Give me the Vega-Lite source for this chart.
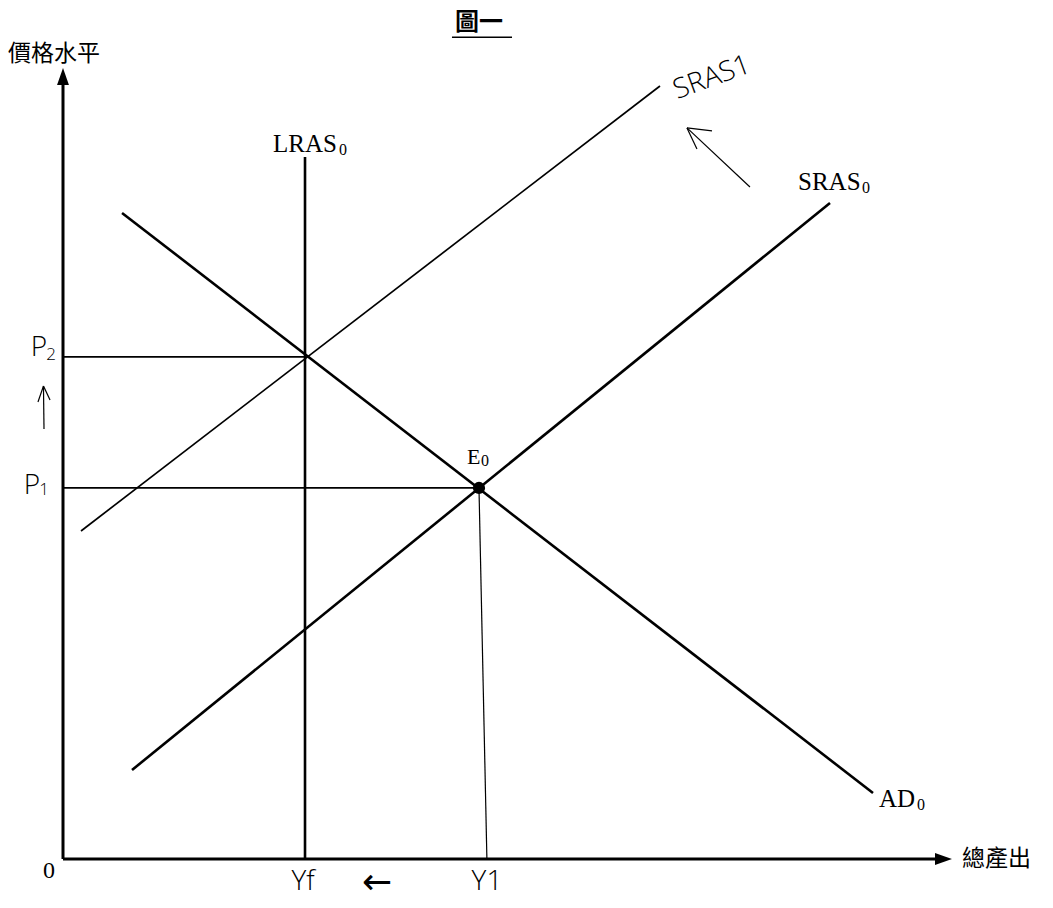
{
  "$schema": "https://vega.github.io/schema/vega-lite/v6.json",
  "width": 1053,
  "height": 908,
  "autosize": {"type": "fit", "contains": "padding"},
  "padding": 0,
  "background": "white",
  "config": {"view": {"stroke": null}},
  "datasets": {
    "segments": [
      {"seg": "price axis", "x": 0, "y": 0, "x2": 0, "y2": 85.5},
      {"seg": "output axis", "x": 0, "y": 0, "x2": 97, "y2": 0},
      {"seg": "LRAS0", "x": 26.89, "y": 0, "x2": 26.89, "y2": 77.31},
      {"seg": "AD0", "x": 6.56, "y": 71.15, "x2": 90.0, "y2": 7.27},
      {"seg": "SRAS0", "x": 7.67, "y": 9.8, "x2": 85.22, "y2": 72.25},
      {"seg": "SRAS1", "x": 2.0, "y": 36.12, "x2": 66.33, "y2": 85.13},
      {"seg": "P2 guide", "x": 0, "y": 55.29, "x2": 26.89, "y2": 55.29},
      {"seg": "P1 guide", "x": 0, "y": 40.86, "x2": 46.22, "y2": 40.86},
      {"seg": "Y1 guide", "x": 46.22, "y": 40.86, "x2": 47.1, "y2": 0},
      {"seg": "shift arrow", "x": 76.33, "y": 74.0, "x2": 69.33, "y2": 80.51},
      {"seg": "shift arrow", "x": 69.33, "y": 80.51, "x2": 72.11, "y2": 80.18},
      {"seg": "shift arrow", "x": 69.33, "y": 80.51, "x2": 70.44, "y2": 78.19},
      {"seg": "price arrow", "x": -2.11, "y": 47.36, "x2": -2.17, "y2": 52.09},
      {"seg": "price arrow", "x": -2.17, "y": 52.09, "x2": -2.78, "y2": 50.33},
      {"seg": "price arrow", "x": -2.17, "y": 52.09, "x2": -1.44, "y2": 50.55},
      {"seg": "title underline", "x": 43.22, "y": 90.5, "x2": 49.89, "y2": 90.5}
    ],
    "points": [
      {"name": "E0", "x": 46.22, "y": 40.86},
      {"name": "price tip", "x": 0, "y": 86.18},
      {"name": "output tip", "x": 97.83, "y": 0}
    ],
    "labels": [
      {"role": "curve", "text": "LRAS", "x": 23.33, "y": 77.86},
      {"role": "curve", "text": "SRAS", "x": 81.67, "y": 73.68},
      {"role": "curve", "text": "AD", "x": 90.67, "y": 5.73},
      {"role": "point", "text": "E", "x": 44.89, "y": 43.5},
      {"role": "sub", "text": "0", "x": 30.67, "y": 77.53},
      {"role": "sub", "text": "0", "x": 88.78, "y": 73.35},
      {"role": "sub", "text": "0", "x": 94.89, "y": 5.4},
      {"role": "sub", "text": "0", "x": 46.44, "y": 43.28},
      {"role": "origin", "text": "0", "x": -1.56, "y": -2.09},
      {"role": "cjk", "text": "價格水平", "x": -1.0, "y": 88.66},
      {"role": "cjk-right", "text": "總產出", "x": 99.89, "y": 0},
      {"role": "title", "text": "圖一", "x": 46.22, "y": 92.1},
      {"role": "hand", "text": "Yf", "x": 26.67, "y": -2.53},
      {"role": "hand-arrow", "text": "←", "x": 34.9, "y": -2.6},
      {"role": "hand", "text": "Y1", "x": 47.11, "y": -2.53},
      {"role": "hand", "text": "P", "x": -2.67, "y": 56.28},
      {"role": "hand", "text": "P", "x": -3.44, "y": 41.08},
      {"role": "hand-sub", "text": "2", "x": -1.33, "y": 55.51},
      {"role": "hand-sub", "text": "1", "x": -2.11, "y": 40.64},
      {"role": "hand-rot", "text": "SRAS1", "x": 72.11, "y": 86.01}
    ]
  },
  "encoding": {
    "x": {"field": "x", "type": "quantitative", "scale": {"domain": [-7, 110], "nice": false, "zero": false}, "axis": null},
    "y": {"field": "y", "type": "quantitative", "scale": {"domain": [-5.4, 94.6], "nice": false, "zero": false}, "axis": null}
  },
  "layer": [
    {
      "data": {"name": "segments"},
      "transform": [{"filter": {"field": "seg", "oneOf": ["price axis", "output axis"]}}],
      "mark": {"type": "rule", "strokeWidth": 3, "color": "black"},
      "encoding": {"x2": {"field": "x2"}, "y2": {"field": "y2"}}
    },
    {
      "data": {"name": "segments"},
      "transform": [{"filter": {"field": "seg", "oneOf": ["LRAS0", "AD0", "SRAS0"]}}],
      "mark": {"type": "rule", "strokeWidth": 2.6, "color": "black"},
      "encoding": {"x2": {"field": "x2"}, "y2": {"field": "y2"}}
    },
    {
      "data": {"name": "segments"},
      "transform": [{"filter": {"field": "seg", "oneOf": ["SRAS1", "P2 guide", "P1 guide", "title underline"]}}],
      "mark": {"type": "rule", "strokeWidth": 1.7, "color": "black"},
      "encoding": {"x2": {"field": "x2"}, "y2": {"field": "y2"}}
    },
    {
      "data": {"name": "segments"},
      "transform": [{"filter": {"field": "seg", "oneOf": ["Y1 guide", "shift arrow", "price arrow"]}}],
      "mark": {"type": "rule", "strokeWidth": 1.2, "color": "black"},
      "encoding": {"x2": {"field": "x2"}, "y2": {"field": "y2"}}
    },
    {
      "data": {"name": "points"},
      "transform": [{"filter": {"field": "name", "equal": "E0"}}],
      "mark": {"type": "point", "shape": "circle", "filled": true, "size": 150, "color": "black", "opacity": 1}
    },
    {
      "data": {"name": "points"},
      "transform": [{"filter": {"field": "name", "equal": "price tip"}}],
      "mark": {"type": "point", "shape": "M0,-1L0.7,1L-0.7,1Z", "filled": true, "size": 289, "color": "black", "opacity": 1}
    },
    {
      "data": {"name": "points"},
      "transform": [{"filter": {"field": "name", "equal": "output tip"}}],
      "mark": {"type": "point", "shape": "M1,0L-1,-0.7L-1,0.7Z", "filled": true, "size": 289, "color": "black", "opacity": 1}
    },
    {
      "data": {"name": "labels"},
      "transform": [{"filter": {"field": "role", "equal": "curve"}}],
      "mark": {"type": "text", "font": "Liberation Serif", "fontSize": 25, "align": "left", "baseline": "alphabetic", "color": "black"},
      "encoding": {"text": {"field": "text"}}
    },
    {
      "data": {"name": "labels"},
      "transform": [{"filter": {"field": "role", "equal": "point"}}],
      "mark": {"type": "text", "font": "Liberation Serif", "fontSize": 22, "align": "left", "baseline": "alphabetic", "color": "black"},
      "encoding": {"text": {"field": "text"}}
    },
    {
      "data": {"name": "labels"},
      "transform": [{"filter": {"field": "role", "equal": "sub"}}],
      "mark": {"type": "text", "font": "Liberation Serif", "fontSize": 16, "align": "left", "baseline": "alphabetic", "color": "black"},
      "encoding": {"text": {"field": "text"}}
    },
    {
      "data": {"name": "labels"},
      "transform": [{"filter": {"field": "role", "equal": "origin"}}],
      "mark": {"type": "text", "font": "Liberation Serif", "fontSize": 24, "align": "center", "baseline": "alphabetic", "color": "black"},
      "encoding": {"text": {"field": "text"}}
    },
    {
      "data": {"name": "labels"},
      "transform": [{"filter": {"field": "role", "equal": "cjk"}}],
      "mark": {"type": "text", "font": "Noto Sans CJK TC", "fontSize": 23, "align": "center", "baseline": "middle", "color": "black"},
      "encoding": {"text": {"field": "text"}}
    },
    {
      "data": {"name": "labels"},
      "transform": [{"filter": {"field": "role", "equal": "cjk-right"}}],
      "mark": {"type": "text", "font": "Noto Sans CJK TC", "fontSize": 23, "align": "left", "baseline": "middle", "color": "black"},
      "encoding": {"text": {"field": "text"}}
    },
    {
      "data": {"name": "labels"},
      "transform": [{"filter": {"field": "role", "equal": "title"}}],
      "mark": {"type": "text", "font": "Noto Sans CJK TC", "fontSize": 24, "fontWeight": "bold", "align": "center", "baseline": "middle", "color": "black"},
      "encoding": {"text": {"field": "text"}}
    },
    {
      "data": {"name": "labels"},
      "transform": [{"filter": {"field": "role", "equal": "hand"}}],
      "mark": {"type": "text", "font": "Open Sans", "fontWeight": 300, "fontSize": 28, "align": "center", "baseline": "middle", "color": "black"},
      "encoding": {"text": {"field": "text"}}
    },
    {
      "data": {"name": "labels"},
      "transform": [{"filter": {"field": "role", "equal": "hand-arrow"}}],
      "mark": {"type": "text", "font": "DejaVu Sans", "fontSize": 36, "align": "center", "baseline": "middle", "color": "black"},
      "encoding": {"text": {"field": "text"}}
    },
    {
      "data": {"name": "labels"},
      "transform": [{"filter": {"field": "role", "equal": "hand-sub"}}],
      "mark": {"type": "text", "font": "Open Sans", "fontWeight": 300, "fontSize": 17, "align": "center", "baseline": "middle", "color": "black"},
      "encoding": {"text": {"field": "text"}}
    },
    {
      "data": {"name": "labels"},
      "transform": [{"filter": {"field": "role", "equal": "hand-rot"}}],
      "mark": {"type": "text", "font": "Open Sans", "fontWeight": 300, "fontSize": 28, "angle": -20, "align": "center", "baseline": "middle", "color": "black"},
      "encoding": {"text": {"field": "text"}}
    }
  ]
}
